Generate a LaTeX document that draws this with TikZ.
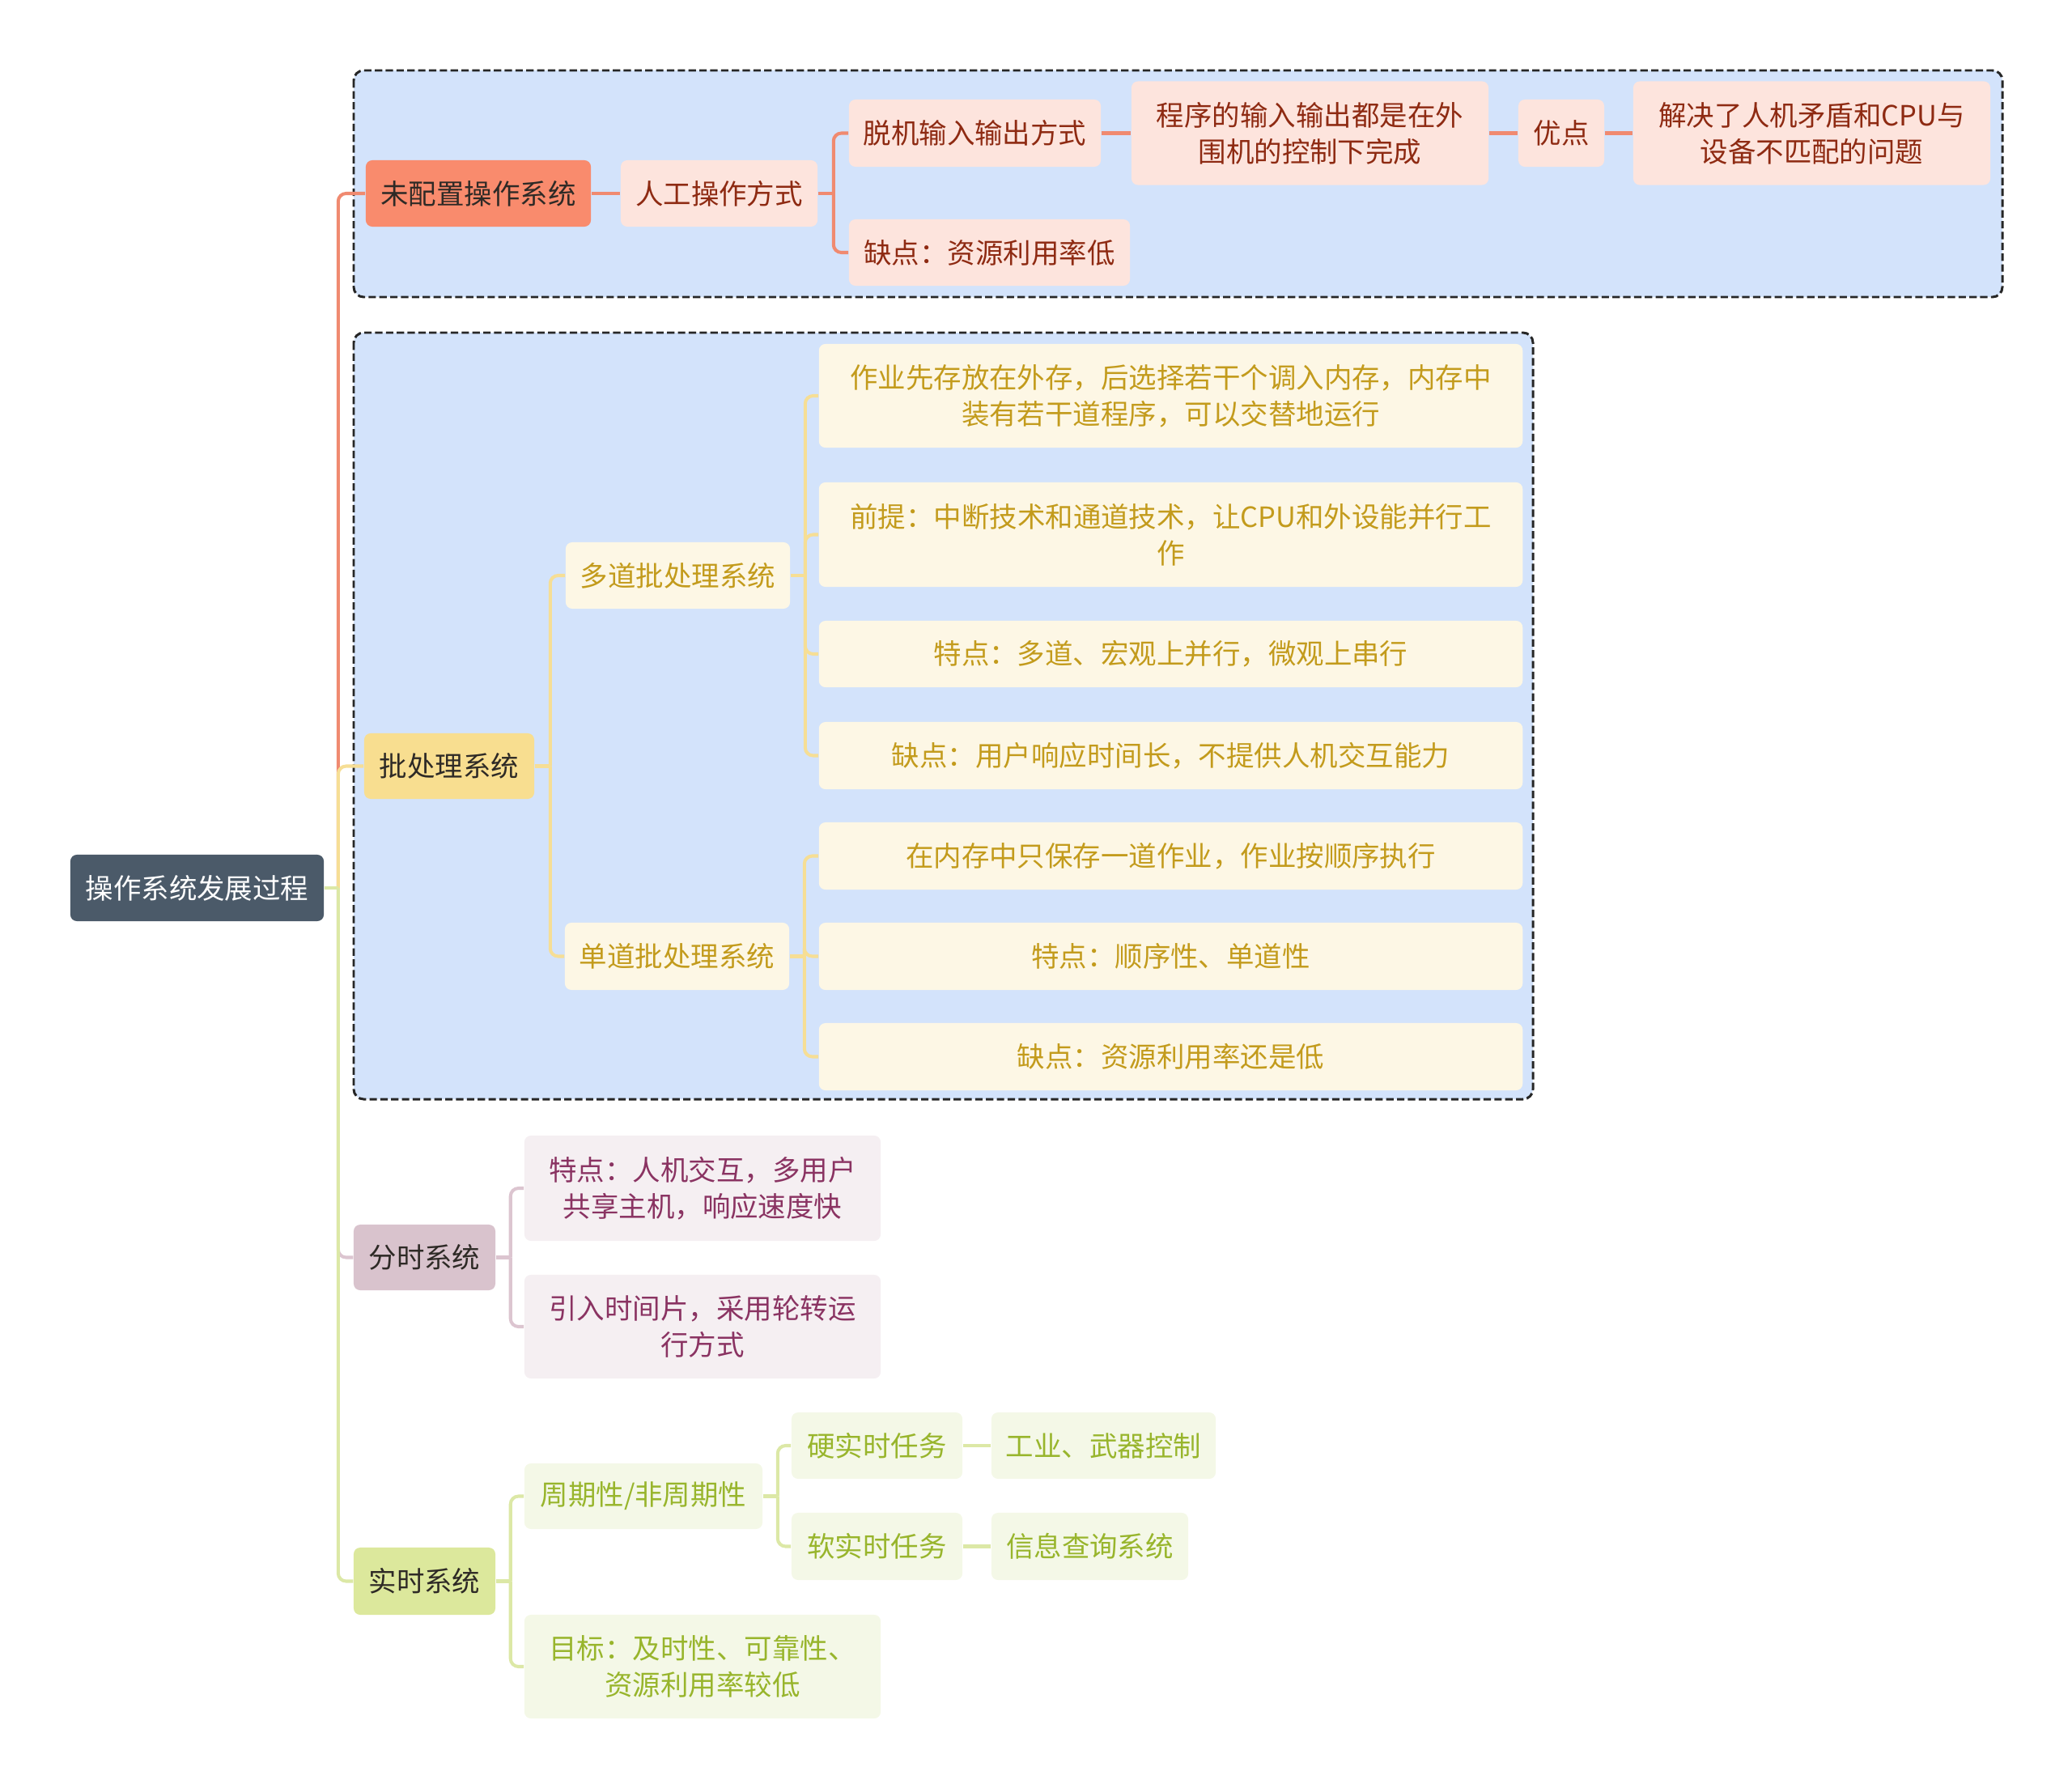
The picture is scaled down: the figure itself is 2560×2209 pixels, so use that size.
\documentclass[tikz,border=0pt]{standalone}
\usepackage{fontspec}
\setmainfont{Noto Sans CJK SC}
\usetikzlibrary{calc,positioning}
\definecolor{groupblue}{HTML}{D3E3FB}
\definecolor{rootgray}{HTML}{4B5A69}
\definecolor{darktext}{HTML}{2E2A26}
\definecolor{redmainc}{HTML}{F98B6D}
\definecolor{redsubc}{HTML}{FDE4DD}
\definecolor{redtextc}{HTML}{8E2A12}
\definecolor{redlinec}{HTML}{F08A70}
\definecolor{yelmainc}{HTML}{F8DE90}
\definecolor{yelsubc}{HTML}{FDF7E5}
\definecolor{yeltextc}{HTML}{C39B1C}
\definecolor{yellinec}{HTML}{F6DE95}
\definecolor{purmainc}{HTML}{D9C3CD}
\definecolor{pursubc}{HTML}{F5EFF2}
\definecolor{purtextc}{HTML}{8A3362}
\definecolor{purlinec}{HTML}{DCC5D0}
\definecolor{grnmainc}{HTML}{DCE89C}
\definecolor{grnsubc}{HTML}{F4F8E7}
\definecolor{grntextc}{HTML}{98B52C}
\definecolor{grnlinec}{HTML}{DCE8A6}
\tikzset{
  topic/.style={rounded corners=2.3pt, inner sep=0pt, align=center, font=\fontsize{9.8pt}{12.8pt}\selectfont},
  sz/.style 2 args={minimum width=#1cm, minimum height=#2cm},
  rootbox/.style={topic, fill=rootgray, text=white},
  group/.style={draw=black!85, line width=0.85pt, dash pattern=on 2.6pt off 1.2pt, fill=groupblue, rounded corners=3.5pt},
  link/.style={line width=1.15pt, rounded corners=2.8pt},
  redmain/.style={topic, fill=redmainc, text=darktext},
  redsub/.style={topic, fill=redsubc, text=redtextc},
  redline/.style={link, draw=redlinec},
  yelmain/.style={topic, fill=yelmainc, text=darktext},
  yelsub/.style={topic, fill=yelsubc, text=yeltextc},
  yelline/.style={link, draw=yellinec},
  purmain/.style={topic, fill=purmainc, text=darktext},
  pursub/.style={topic, fill=pursubc, text=purtextc},
  purline/.style={link, draw=purlinec},
  grnmain/.style={topic, fill=grnmainc, text=darktext},
  grnsub/.style={topic, fill=grnsubc, text=grntextc},
  grnline/.style={link, draw=grnlinec}
}
\begin{document}
\begin{tikzpicture}[x=0.01cm, y=-0.01cm]
\useasboundingbox (0,0) rectangle (2560,2209);

% groups
\draw[group] (437,87) rectangle (2474,367);
\draw[group] (437,411) rectangle (1894,1358);

% root
\node[rootbox, sz={3.13}{0.82}] (root) at (243.5,1097) {操作系统发展过程};

% no operating system
\node[redmain, sz={2.78}{0.82}] (noos) at (591,239) {未配置操作系统};
\node[redsub, sz={2.43}{0.82}] (manual) at (888.5,239) {人工操作方式};
\node[redsub, sz={3.11}{0.83}] (offline) at (1204.5,164.5) {脱机输入输出方式};
\node[redsub, sz={3.47}{0.82}] (lowuse) at (1222.5,312) {缺点：资源利用率低};
\node[redsub, sz={4.41}{1.28}] (periph) at (1618.5,164.5) {程序的输入输出都是在外\\围机的控制下完成};
\node[redsub, sz={1.06}{0.83}] (merit) at (1929,164.5) {优点};
\node[redsub, sz={4.41}{1.28}] (solved) at (2238.5,164.5) {解决了人机矛盾和CPU与\\设备不匹配的问题};

% batch systems
\node[yelmain, sz={2.10}{0.81}] (batch) at (555,946.5) {批处理系统};
\node[yelsub, sz={2.77}{0.82}] (multi) at (837.5,711) {多道批处理系统};
\node[yelsub, sz={2.77}{0.83}] (single) at (836.5,1181.5) {单道批处理系统};
\node[yelsub, sz={8.69}{1.28}] (multia) at (1446.5,489) {作业先存放在外存，后选择若干个调入内存，内存中\\装有若干道程序，可以交替地运行};
\node[yelsub, sz={8.69}{1.29}] (multib) at (1446.5,660.5) {前提：中断技术和通道技术，让CPU和外设能并行工\\作};
\node[yelsub, sz={8.69}{0.82}] (multic) at (1446.5,808) {特点：多道、宏观上并行，微观上串行};
\node[yelsub, sz={8.69}{0.83}] (multid) at (1446.5,933.5) {缺点：用户响应时间长，不提供人机交互能力};
\node[yelsub, sz={8.69}{0.83}] (singlea) at (1446.5,1057.5) {在内存中只保存一道作业，作业按顺序执行};
\node[yelsub, sz={8.69}{0.83}] (singleb) at (1446.5,1181.5) {特点：顺序性、单道性};
\node[yelsub, sz={8.69}{0.83}] (singlec) at (1446.5,1305.5) {缺点：资源利用率还是低};

% time sharing
\node[purmain, sz={1.75}{0.81}] (tshare) at (524.5,1553.5) {分时系统};
\node[pursub, sz={4.40}{1.30}] (tsharea) at (868,1468) {特点：人机交互，多用户\\共享主机，响应速度快};
\node[pursub, sz={4.40}{1.28}] (tshareb) at (868,1639) {引入时间片，采用轮转运\\行方式};

% real time
\node[grnmain, sz={1.75}{0.83}] (rtime) at (524.5,1953.5) {实时系统};
\node[grnsub, sz={2.94}{0.81}] (period) at (795,1848.5) {周期性/非周期性};
\node[grnsub, sz={2.11}{0.82}] (hard) at (1083.5,1786) {硬实时任务};
\node[grnsub, sz={2.77}{0.82}] (hardex) at (1363.5,1786) {工业、武器控制};
\node[grnsub, sz={2.11}{0.83}] (soft) at (1083.5,1910.5) {软实时任务};
\node[grnsub, sz={2.43}{0.83}] (softex) at (1346.5,1910.5) {信息查询系统};
\node[grnsub, sz={4.40}{1.28}] (goal) at (868,2059) {目标：及时性、可靠性、\\资源利用率较低};

% junctions
\coordinate (jroot) at ($(root.east)+(17,0)$);
\coordinate (jmanual) at ($(manual.east)+(19,0)$);
\coordinate (jbatch) at ($(batch.east)+(19,0)$);
\coordinate (jmulti) at ($(multi.east)+(18,0)$);
\coordinate (jsingle) at ($(single.east)+(18,0)$);
\coordinate (jtshare) at ($(tshare.east)+(18,0)$);
\coordinate (jrtime) at ($(rtime.east)+(18,0)$);
\coordinate (jperiod) at ($(period.east)+(18,0)$);

% main branches
\draw[redline] (jroot) |- (noos.west);
\draw[yelline] (jroot) |- (batch.west);
\draw[purline] (jroot) |- (tshare.west);
\draw[grnline] (jroot) |- (rtime.west);
\draw[grnline] (root.east) -- (jroot);

% no os links
\draw[redline] (noos.east) -- (manual.west);
\draw[redline] (manual.east) -- (jmanual);
\foreach \n in {offline,lowuse} \draw[redline] (jmanual) |- (\n.west);
\draw[redline] (offline.east) -- (periph.west);
\draw[redline] (periph.east) -- (merit.west);
\draw[redline] (merit.east) -- (solved.west);

% batch links
\draw[yelline] (batch.east) -- (jbatch);
\foreach \n in {multi,single} \draw[yelline] (jbatch) |- (\n.west);
\draw[yelline] (multi.east) -- (jmulti);
\foreach \n in {multia,multib,multic,multid} \draw[yelline] (jmulti) |- (\n.west);
\draw[yelline] (single.east) -- (jsingle);
\foreach \n in {singlea,singleb,singlec} \draw[yelline] (jsingle) |- (\n.west);

% time sharing links
\draw[purline] (tshare.east) -- (jtshare);
\foreach \n in {tsharea,tshareb} \draw[purline] (jtshare) |- (\n.west);

% real time links
\draw[grnline] (rtime.east) -- (jrtime);
\foreach \n in {period,goal} \draw[grnline] (jrtime) |- (\n.west);
\draw[grnline] (period.east) -- (jperiod);
\foreach \n in {hard,soft} \draw[grnline] (jperiod) |- (\n.west);
\draw[grnline] (hard.east) -- (hardex.west);
\draw[grnline] (soft.east) -- (softex.west);

\end{tikzpicture}
\end{document}
